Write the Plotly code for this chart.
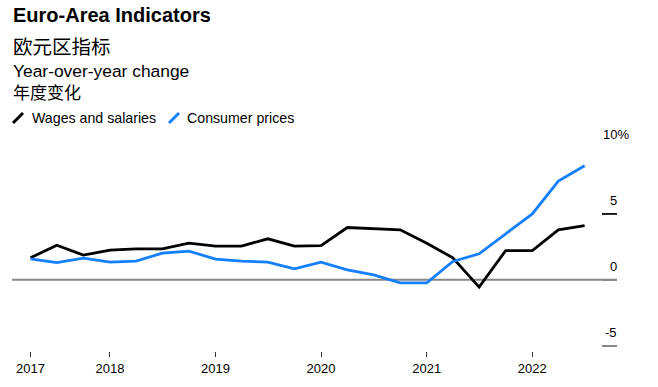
import plotly.graph_objects as go

# ---- data ----
quarters = [
    "2017-04-01", "2017-07-01", "2017-10-01",
    "2018-01-01", "2018-04-01", "2018-07-01", "2018-10-01",
    "2019-01-01", "2019-04-01", "2019-07-01", "2019-10-01",
    "2020-01-01", "2020-04-01", "2020-07-01", "2020-10-01",
    "2021-01-01", "2021-04-01", "2021-07-01", "2021-10-01",
    "2022-01-01", "2022-04-01", "2022-07-01",
]
wages = [1.67, 2.63, 1.87, 2.25, 2.35, 2.35, 2.78, 2.56, 2.56, 3.11, 2.56,
         2.60, 3.97, 3.87, 3.79, 2.78, 1.67, -0.55, 2.22, 2.22, 3.79, 4.12]
prices = [1.59, 1.31, 1.64, 1.34, 1.42, 2.02, 2.18, 1.57, 1.42, 1.34, 0.83,
          1.34, 0.76, 0.38, -0.23, -0.23, 1.39, 1.97, 3.49, 5.00, 7.49, 8.65]
x_tickvals = ["2017-04-01", "2018-01-01", "2019-01-01", "2020-01-01", "2021-01-01", "2022-01-01"]
x_ticktext = ["2017", "2018", "2019", "2020", "2021", "2022"]
y_tickvals = [-5, 0, 5, 10]
y_ticktext = ["-5", "0", "5", "10%"]

W, H = 658, 387
ML, MR, MT, MB = 12, 41, 148, 36
PW, PH = W - ML - MR, H - MT - MB

def px2x(px):
    return (px - ML) / PW

def py2y(py):
    return (H - MB - py) / PH

FONT = "Liberation Sans, Arial, Helvetica, Noto Sans CJK SC, sans-serif"
CJK = "Noto Sans CJK SC, Liberation Sans, sans-serif"
BLACK = "#000000"
BLUE = "#1480ff"

fig = go.Figure()
fig.add_trace(go.Scatter(x=quarters, y=wages, mode="lines", name="Wages and salaries",
                         line=dict(color=BLACK, width=2.8), showlegend=False))
fig.add_trace(go.Scatter(x=quarters, y=prices, mode="lines", name="Consumer prices",
                         line=dict(color=BLUE, width=2.8), showlegend=False))

shapes = [
    dict(type="line", xref="paper", yref="y", x0=0, x1=1, y0=0, y1=0,
         line=dict(color="#888888", width=2), layer="below"),
    dict(type="line", xref="paper", yref="y", x0=px2x(602), x1=1, y0=5, y1=5,
         line=dict(color="#000000", width=1.5)),
    # legend symbols
    dict(type="line", xref="paper", yref="paper", x0=px2x(13), y0=py2y(123),
         x1=px2x(23), y1=py2y(113), line=dict(color=BLACK, width=3)),
    dict(type="line", xref="paper", yref="paper", x0=px2x(169), y0=py2y(123),
         x1=px2x(179), y1=py2y(113), line=dict(color=BLUE, width=3)),
]

annotations = [
    dict(text="<b>Euro-Area Indicators</b>", x=px2x(11), y=py2y(15), font=dict(size=20, family=FONT, color="#000")),
    dict(text="欧元区指标", x=px2x(11), y=py2y(46), font=dict(size=19.5, family=CJK, color="#000")),
    dict(text="Year-over-year change", x=px2x(11), y=py2y(71), font=dict(size=17.4, family=FONT, color="#000")),
    dict(text="年度变化", x=px2x(11), y=py2y(92), font=dict(size=17, family=CJK, color="#000")),
    dict(text="Wages and salaries", x=px2x(30), y=py2y(118), font=dict(size=14.2, family=FONT, color="#000")),
    dict(text="Consumer prices", x=px2x(185), y=py2y(118), font=dict(size=14.2, family=FONT, color="#000")),
]
for a in annotations:
    a.update(xref="paper", yref="paper", xanchor="left", yanchor="middle", showarrow=False)

# y tick labels placed above their tick marks
for v, t in zip(y_tickvals, y_ticktext):
    if t.endswith("%"):
        annotations.append(dict(text=t, xref="paper", yref="y", x=px2x(601), y=v,
                                xanchor="left", yanchor="bottom", yshift=4, showarrow=False,
                                font=dict(size=13, family=FONT, color="#000")))
    else:
        annotations.append(dict(text=t, xref="paper", yref="y", x=px2x(619), y=v,
                                xanchor="right", yanchor="bottom", yshift=4, showarrow=False,
                                font=dict(size=13, family=FONT, color="#000")))

fig.update_layout(
    width=W, height=H,
    margin=dict(l=ML, r=MR, t=MT, b=MB, pad=0),
    paper_bgcolor="white", plot_bgcolor="white",
    font=dict(family=FONT, size=13, color="#000"),
    shapes=shapes, annotations=annotations,
    xaxis=dict(type="date", range=["2017-01-27", "2022-10-21"],
               tickvals=x_tickvals, ticktext=x_ticktext,
               ticks="outside", ticklen=5, tickwidth=1, tickcolor="#333",
               showgrid=False, zeroline=False, showline=False,
               tickfont=dict(size=13, family=FONT, color="#000")),
    yaxis=dict(range=[-5.4, 10], side="right",
               tickvals=y_tickvals, showticklabels=False,
               ticks="inside", ticklen=15, tickwidth=2, tickcolor="#888",
               showgrid=False, zeroline=False, showline=False),
)

fig.write_html("out.html", config={"displayModeBar": False},
               post_script="document.body.style.margin='0px';")
